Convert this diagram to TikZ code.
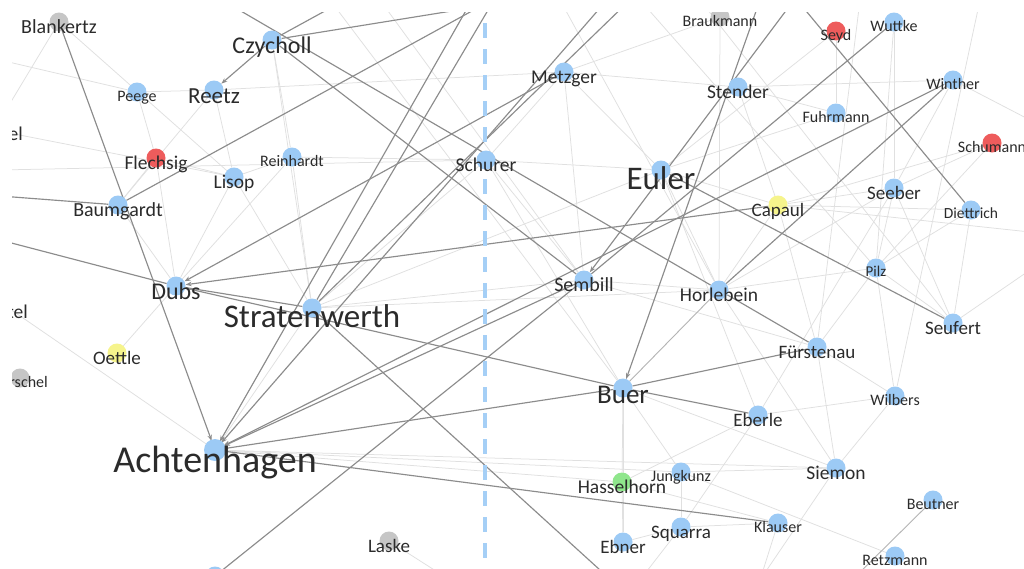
\documentclass[tikz,border=0pt]{standalone}
\usepackage{fontspec}
\setmainfont{Carlito}
\usetikzlibrary{arrows.meta}

\definecolor{nb}{HTML}{9CCAF5}
\definecolor{nr}{HTML}{EE5C5C}
\definecolor{ny}{HTML}{F6F48C}
\definecolor{ngn}{HTML}{8FE68C}
\definecolor{ngy}{HTML}{C6C6C6}
\definecolor{edgelight}{HTML}{E0E0E0}
\definecolor{edgemid}{HTML}{B4B4B4}
\definecolor{edgedark}{HTML}{8C8C8C}
\definecolor{divider}{HTML}{A5CFF6}
\definecolor{ink}{HTML}{2B2B2B}

\tikzset{
  hub/.style={circle, minimum size=19pt, inner sep=0pt},
  lite/.style={draw=edgelight, line width=0.75pt},
  mid/.style={draw=edgemid, line width=0.9pt},
  heavy/.style={draw=edgedark, line width=1.15pt},
  tip/.style={-{Stealth[length=6pt,width=4.5pt]}},
  lbl/.style={text=ink, inner sep=0pt, anchor=base},
  divline/.style={draw=divider, line width=4pt, dash pattern=on 15pt off 11pt},
}

% name / x / y / colour / font size / label
\def\people{%
  achten/215/450/nb/38/Achtenhagen,
  strat/312/308/nb/33/Stratenwerth,
  euler/661/170/nb/33/Euler,
  buer/623/388/nb/27/Buer,
  czy/272/40/nb/24/Czycholl,
  reetz/214/90/nb/23/Reetz,
  dubs/176/286/nb/24/Dubs,
  baum/118/205/nb/20/Baumgardt,
  flech/156/158/nr/19.5/Flechsig,
  lisop/234/177/nb/19.5/Lisop,
  blank/59/22/ngy/20/Blankertz,
  peege/137/92/nb/16/Peege,
  rein/292/157/nb/16/Reinhardt,
  schurer/486/160/nb/19.5/Schurer,
  metz/564/72/nb/19.5/Metzger,
  sembill/584/280/nb/20/Sembill,
  horle/719/290/nb/19.5/Horlebein,
  capaul/778/205/ny/19/Capaul,
  stender/738/87/nb/19.5/Stender,
  seeber/894/188/nb/19/Seeber,
  seufert/953/323/nb/19/Seufert,
  fuerst/817/347/nb/19/Fürstenau,
  eberle/758/415/nb/19/Eberle,
  siemon/836/468/nb/19.5/Siemon,
  hassel/622/482/ngn/19.5/Hasselhorn,
  squarra/681/527/nb/19/Squarra,
  ebner/623/542/nb/19/Ebner,
  laske/389/541/ngy/19/Laske,
  oettle/117/353/ny/19/Oettle,
  jung/681/472/nb/16/Jungkunz,
  brauk/720/17/ngy/16/Braukmann,
  seyd/836/31/nr/16/Seyd,
  wuttke/894/22/nb/16/Wuttke,
  fuhr/836/113/nb/16/Fuhrmann,
  winther/953/80/nb/16/Winther,
  schumann/992/143/nr/16/Schumann,
  diett/971/210/nb/15.5/Diettrich,
  pilz/876/268/nb/15/Pilz,
  wilbers/895/396/nb/16/Wilbers,
  beutner/933/500/nb/16/Beutner,
  klauser/778/523/nb/16/Klauser,
  retz/895/556/nb/16/Retzmann%
}

\begin{document}
\begin{tikzpicture}[x=1pt,y=-1pt]
\useasboundingbox (0,0) rectangle (1024,568);
\fill[white] (0,0) rectangle (1024,568);
\begin{scope}
\clip (12,12) rectangle (1024,568);

% anchors for every person (drawn later)
\foreach \n/\x/\y/\c/\s/\t in \people {\node[hub] (\n) at (\x,\y) {};}
\node[hub] (rschelhub) at (20,378) {};
\node[hub] (bot) at (215,576) {};

% ends of connectors that leave the sheet
\coordinate (el0) at (-6,130);
\coordinate (tel0) at (-6,298);
\coordinate (lft1) at (0,196);
\coordinate (lft2) at (0,240);
\coordinate (t1) at (520,0);
\coordinate (t2) at (222,0);
\coordinate (t3) at (492,0);
\coordinate (t4) at (472,0);
\coordinate (t5) at (607,0);
\coordinate (t6) at (794,0);
\coordinate (t7) at (760,0);
\coordinate (t8) at (797,0);
\coordinate (t9) at (345,0);
\coordinate (t10) at (494,0);
\coordinate (t12) at (630,0);
\coordinate (b1) at (450,580);
\coordinate (b2) at (640,580);
\coordinate (b3) at (760,580);
\coordinate (b5) at (852,580);
\coordinate (b6) at (611,580);
\coordinate (u1) at (330,0);
\coordinate (u2) at (380,0);
\coordinate (u3) at (560,0);
\coordinate (u4) at (640,0);
\coordinate (u5) at (700,0);
\coordinate (u6) at (860,0);
\coordinate (u7) at (980,0);
\coordinate (r1) at (1030,232);
\coordinate (r2) at (1030,270);
\coordinate (r3) at (1030,120);
\coordinate (l1) at (0,60);
\coordinate (l2) at (0,170);

% faint co-authorship links
\foreach \a/\b in {blank/el0, blank/lisop, el0/lisop, reetz/baum, reetz/metz,
  flech/lisop, flech/baum, lisop/rein, rein/schurer, rein/dubs, peege/l1,
  peege/flech, oettle/dubs, tel0/achten, strat/schurer, strat/sembill,
  strat/euler, strat/horle, strat/czy, dubs/lisop, achten/hassel, achten/jung,
  achten/siemon, achten/strat, laske/b1, schurer/buer, schurer/metz,
  schurer/euler, metz/euler, metz/stender, metz/brauk, euler/capaul,
  euler/horle, euler/fuhr, horle/pilz, horle/seeber, horle/capaul,
  capaul/seeber, capaul/r1, pilz/seeber, pilz/wilbers, pilz/fuerst,
  pilz/diett, seufert/r2, fuerst/wilbers, fuerst/siemon, eberle/hassel,
  eberle/squarra, jung/retz, jung/siemon, hassel/ebner, buer/hassel,
  buer/jung, buer/ebner, squarra/ebner, squarra/b2, wilbers/siemon,
  wilbers/eberle, stender/fuhr, stender/capaul, stender/winther, seyd/fuhr,
  wuttke/seeber, winther/seeber, schumann/capaul, schumann/seeber,
  diett/capaul, seeber/seufert, seufert/pilz, fuerst/capaul, siemon/horle,
  eberle/euler, klauser/squarra, brauk/horle, seyd/euler, wuttke/pilz,
  u1/buer, u2/sembill, u3/horle, u4/pilz, u5/seufert, u6/fuerst, u7/wilbers,
  l2/schurer, metz/sembill, czy/rein, reetz/lisop, peege/reetz, flech/dubs,
  baum/dubs, lisop/strat, rein/strat, schurer/sembill, buer/siemon,
  eberle/seeber, klauser/b3, siemon/b3, hassel/klauser, jung/squarra,
  winther/r3, schumann/pilz, diett/seufert, sembill/horle, sembill/fuerst}
  \draw[lite] (\a) -- (\b);

% medium links
\draw[mid] (horle) -- (buer);
\draw[mid] (beutner) -- (b5);

% strong links
\draw[heavy,tip] (blank) -- (achten);
\draw[heavy] (baum) -- (lft1);
\draw[heavy] (dubs) -- (lft2);
\draw[heavy,tip] (metz) -- (dubs);
\draw[heavy,tip] (capaul) -- (dubs);
\draw[heavy] (dubs) -- (strat);
\draw[heavy] (dubs) -- (buer);
\draw[heavy,tip] (czy) -- (reetz);
\draw[heavy] (czy) -- (t1);
\draw[heavy] (czy) -- (t9);
\draw[heavy] (t2) -- (horle);
\draw[heavy] (czy) -- (sembill);
\draw[heavy] (baum) -- (t3);
\draw[heavy,tip] (t4) -- (achten);
\draw[heavy,tip] (t5) -- (achten);
\draw[heavy,tip] (sembill) -- (achten);
\draw[heavy,tip] (winther) -- (achten);
\draw[heavy] (achten) -- (buer);
\draw[heavy] (achten) -- (klauser);
\draw[heavy] (bot) -- (sembill);
\draw[heavy] (strat) -- (b6);
\draw[heavy] (strat) -- (t10);
\draw[heavy] (strat) -- (t12);
\draw[heavy,tip] (t6) -- (sembill);
\draw[heavy,tip] (t7) -- (buer);
\draw[heavy] (buer) -- (fuerst);
\draw[heavy] (buer) -- (eberle);
\draw[heavy] (horle) -- (fuerst);
\draw[heavy] (horle) -- (winther);
\draw[heavy] (euler) -- (seufert);
\draw[heavy] (wuttke) -- (sembill);
\draw[heavy] (t8) -- (diett);

% group divider
\coordinate (divtop) at (485,23);
\coordinate (divbot) at (485,580);
\draw[divline] (divtop) -- (divbot);

% dots
\foreach \n/\x/\y/\c/\s/\t in \people {\fill[\c] (\n.center) circle (9.5pt);}
\fill[nb] (achten.center) circle (11pt);
\fill[ngy] (rschelhub.center) circle (9.5pt);
\fill[nb] (bot.center) circle (9.5pt);

% names
\foreach \n/\x/\y/\c/\s/\t in \people
  {\node[lbl, font=\fontsize{\s}{\s}\selectfont] (\n-name) at (\x,{\y+0.58*\s}) {\t};}
\node[lbl, anchor=base east, font=\fontsize{19.5}{19.5}\selectfont] (elname) at (23,140) {el};
\node[lbl, anchor=base east, font=\fontsize{19.5}{19.5}\selectfont] (telname) at (28,318) {tel};
\node[lbl, anchor=base east, font=\fontsize{16}{16}\selectfont] (rschelname) at (48,387) {rschel};
\end{scope}
\end{tikzpicture}
\end{document}
